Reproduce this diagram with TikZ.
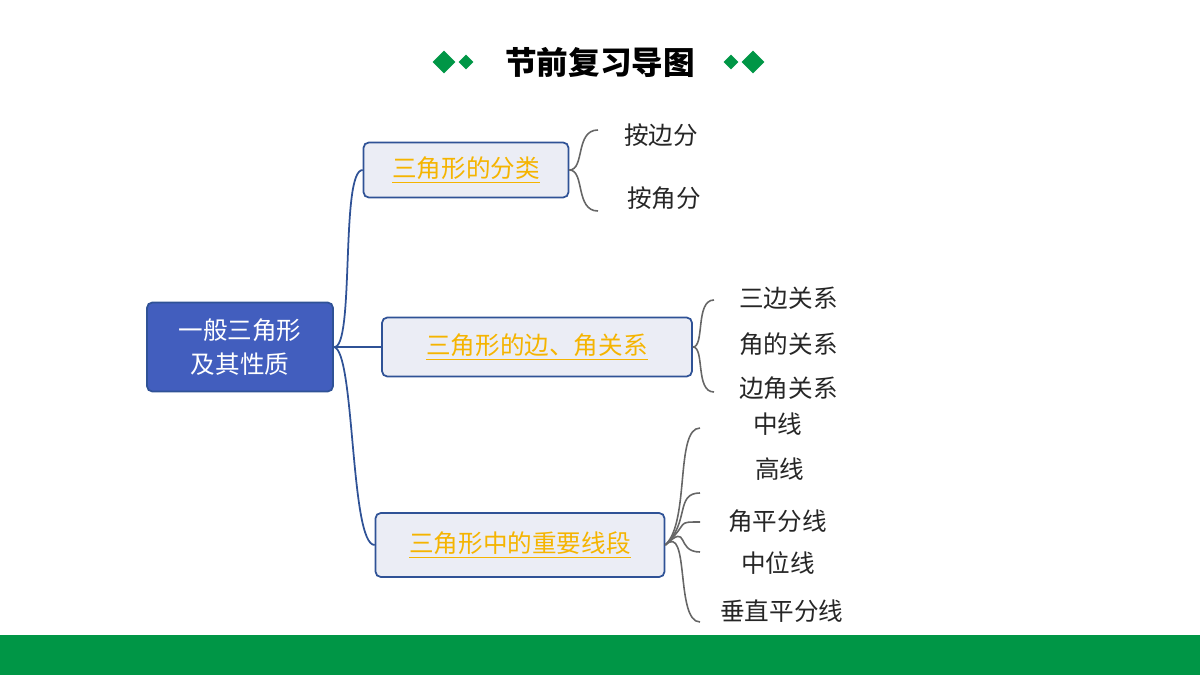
\documentclass[tikz,border=0pt]{standalone}
\usepackage{fontspec}
\newfontfamily\cjk{Noto Sans CJK SC}
\usetikzlibrary{shapes.geometric, calc}
\definecolor{barGreen}{RGB}{0,150,70}
\definecolor{rootBlue}{RGB}{66,94,190}
\definecolor{boxEdge}{RGB}{47,82,150}
\definecolor{boxFill}{RGB}{235,237,245}
\definecolor{topicOrange}{RGB}{245,180,0}
\tikzset{
    topic/.style={draw=boxEdge, fill=boxFill, rounded corners=3pt, line width=1pt,
        font=\cjk\fontsize{14}{16}\selectfont, text=topicOrange},
    leaf/.style={font=\cjk\fontsize{14}{16}\selectfont, text=black!85, anchor=west},
    branch/.style={draw=boxEdge, line width=1pt},
    brace/.style={draw=gray!80!black, line width=0.9pt},
    gem/.style={diamond, fill=barGreen, inner sep=0pt}
}
\begin{document}
\begin{tikzpicture}[x=0.02cm, y=-0.02cm]
    \useasboundingbox (0,0) rectangle (1200,675);
    
    % Title
    \node[font=\cjk\bfseries\fontsize{18}{20}\selectfont] (title) at (600,62) {节前复习导图};
    \node[gem, minimum size=22\pgflinewidth*0+0.46cm] (gl1) at (444,62) {};
    \node[gem, minimum size=0.3cm] (gl2) at (466,62) {};
    \node[gem, minimum size=0.3cm] (gr1) at (731,62) {};
    \node[gem, minimum size=0.46cm] (gr2) at (753,62) {};
    
    % Bottom bar
    \fill[barGreen] (0,635) rectangle (1200,675);
    
    % Root
    \node[draw=boxEdge, fill=rootBlue, rounded corners=3pt, line width=1pt,
        minimum width=3.72cm, minimum height=1.78cm, align=center, text=white,
        font=\cjk\fontsize{14}{19}\selectfont] (root) at (240,347) {一般三角形\\及其性质};
    
    % Topics
    \node[topic, minimum width=4.1cm, minimum height=1.1cm] (cls) at (466,170) {\underline{三角形的分类}};
    \node[topic, minimum width=6.2cm, minimum height=1.18cm] (rel) at (537,347) {\underline{三角形的边、角关系}};
    \node[topic, minimum width=5.78cm, minimum height=1.28cm] (seg) at (520,545) {\underline{三角形中的重要线段}};
    
    % Branches
    \draw[branch] (root.east) .. controls (355,350) and (340,170) .. (cls.west);
    \draw[branch] (root.east) -- (rel.west);
    \draw[branch] (root.east) .. controls (355,350) and (350,545) .. (seg.west);
    
    % Leaves
    \node[leaf] (c1) at (618,135) {按边分};
    \node[leaf] (c2) at (621,198) {按角分};
    \node[leaf] (r1) at (733,298) {三边关系};
    \node[leaf] (r2) at (733,344) {角的关系};
    \node[leaf] (r3) at (733,388) {边角关系};
    \node[leaf] (s1) at (747,424) {中线};
    \node[leaf] (s2) at (749,469) {高线};
    \node[leaf] (s3) at (722,521) {角平分线};
    \node[leaf] (s4) at (735,563) {中位线};
    \node[leaf] (s5) at (714,611) {垂直平分线};
    
    % Braces
    \coordinate (cb1) at (598,130);
    \coordinate (cb2) at (598,211);
    \draw[brace] (cls.east) .. controls (585,170) and (575,130) .. (cb1);
    \draw[brace] (cls.east) .. controls (585,170) and (575,211) .. (cb2);
    \coordinate (rb1) at (714,300);
    \coordinate (rb2) at (714,392);
    \draw[brace] (rel.east) .. controls (705,347) and (695,300) .. (rb1);
    \draw[brace] (rel.east) .. controls (705,347) and (695,392) .. (rb2);
    \foreach \y [count=\i] in {428,493,522,552,622}
    {
        \coordinate (sb\i) at (700,\y);
        \draw[brace] (seg.east) .. controls (690,522) and (675,\y) .. (sb\i);
    }
\end{tikzpicture}
\end{document}
